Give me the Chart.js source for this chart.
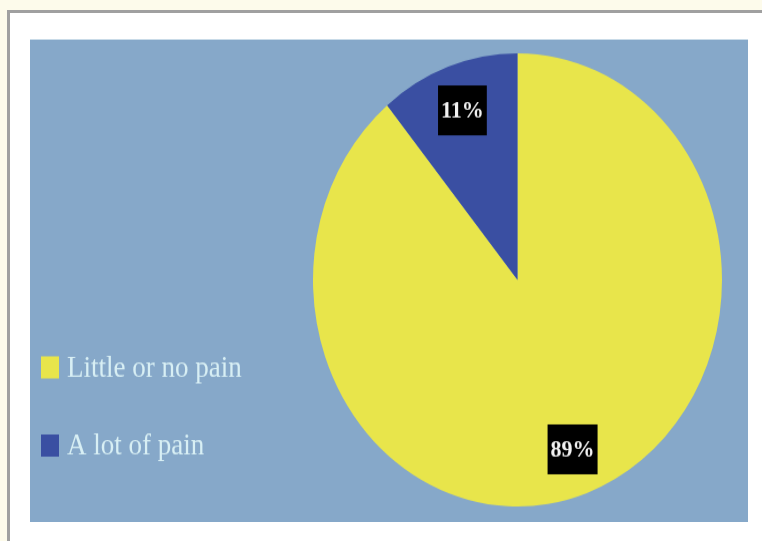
<!DOCTYPE html>
<html>
<head>
<meta charset="utf-8">
<script src="https://cdn.jsdelivr.net/npm/chart.js@4"></script>
<style>
  html, body { margin: 0; padding: 0; }
  body { width: 762px; height: 541px; background: #fdfbeb; position: relative; overflow: hidden; }
  #frame {
    position: absolute; left: 7px; top: 10px; right: -10px; bottom: -10px;
    background: #ffffff; border-left: 3px solid #a0a0a0; border-top: 3px solid #a0a0a0;
  }
  #plot {
    position: absolute; left: 30px; top: 40px; width: 718px; height: 482px;
    background: #86a8c9; box-shadow: 0 -1px 0 #c9dbe8; overflow: hidden;
  }
  /* the original picture is stretched vertically, so the pie is drawn round and scaled */
  #stretch {
    position: absolute; left: 0; top: 0; width: 718px; height: 435px;
    transform: scaleY(1.108); transform-origin: 0 0;
  }
</style>
</head>
<body>
<div id="frame"></div>
<div id="plot"><div id="stretch"><canvas id="pieChart"></canvas></div></div>
<script>
// ================= DATA =================
const categories = ["Little or no pain", "A lot of pain"];
const values = [89, 11];
const sliceLabels = ["89%", "11%"];
const colors = ["#e8e54b", "#3a4fa2"];

// ================= SLICE LABELS =================
const sliceLabelPlugin = {
  id: "sliceLabels",
  afterDatasetsDraw(chart) {
    const ctx = chart.ctx;
    const meta = chart.getDatasetMeta(0);
    ctx.save();
    ctx.font = "bold 22px 'Liberation Serif', serif";
    ctx.textAlign = "center";
    ctx.textBaseline = "middle";
    meta.data.forEach((arc, i) => {
      const p = arc.getProps(["x", "y", "startAngle", "endAngle", "outerRadius"], true);
      const mid = (p.startAngle + p.endAngle) / 2;
      const r = p.outerRadius * 0.795;
      const x = p.x + Math.cos(mid) * r;
      const y = p.y + Math.sin(mid) * r;
      const w = ctx.measureText(sliceLabels[i]).width + 6;
      const h = 45;
      ctx.fillStyle = "#000000";
      ctx.fillRect(x - w / 2, y - h / 2, w, h);
      ctx.fillStyle = "#f2f2f2";
      ctx.fillText(sliceLabels[i], x, y + 1);
    });
    ctx.restore();
  }
};

// ================= LEGEND =================
const sideLegendPlugin = {
  id: "sideLegend",
  afterDraw(chart) {
    const ctx = chart.ctx;
    ctx.save();
    ctx.font = "27px 'Liberation Serif', serif";
    ctx.textBaseline = "middle";
    categories.forEach((name, i) => {
      const cy = 295.5 + i * 70.5;
      ctx.fillStyle = colors[i];
      ctx.fillRect(11, cy - 10, 18, 20);
      ctx.fillStyle = "#d8eff4";
      ctx.fillText(name, 37, cy + 1);
    });
    ctx.restore();
  }
};

// ================= PIE CHART =================
new Chart(document.getElementById("pieChart"), {
  type: "pie",
  data: {
    labels: categories,
    datasets: [{
      data: values,
      backgroundColor: colors,
      borderWidth: 0
    }]
  },
  options: {
    responsive: true,
    maintainAspectRatio: false,
    animation: false,
    layout: {
      padding: { left: 283, right: 26, top: 12, bottom: 14 }
    },
    plugins: {
      legend: { display: false },
      tooltip: { enabled: false }
    }
  },
  plugins: [sliceLabelPlugin, sideLegendPlugin]
});
</script>
</body>
</html>
